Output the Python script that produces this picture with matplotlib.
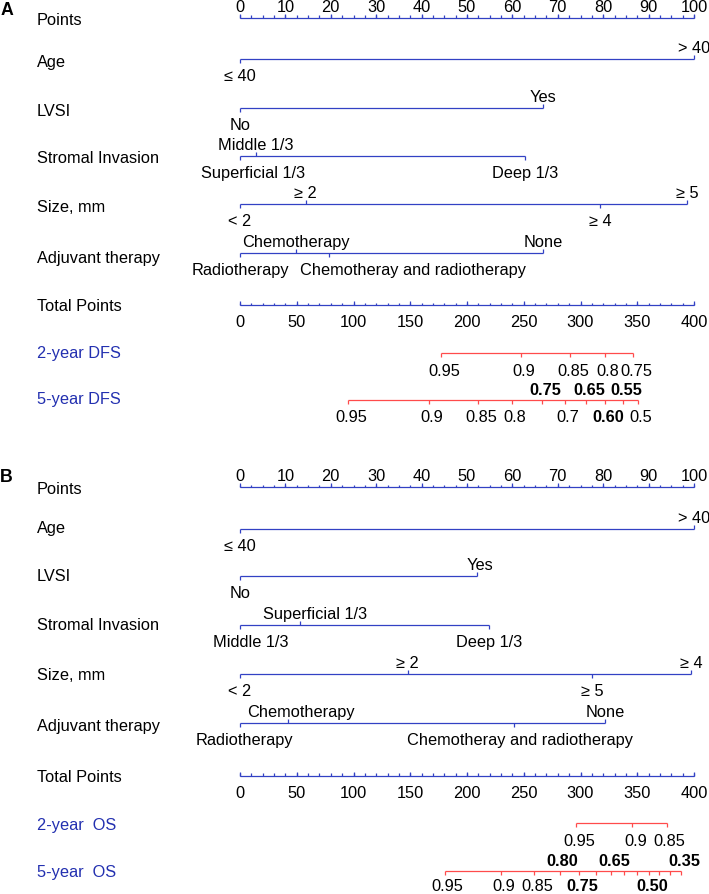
import numpy as np
import matplotlib
matplotlib.use("Agg")
import matplotlib.pyplot as plt
from matplotlib.transforms import blended_transform_factory

plt.rcParams['font.family'] = ['Liberation Sans', 'DejaVu Sans']

# ---------------- data ----------------
point_ticks = [0, 10, 20, 30, 40, 50, 60, 70, 80, 90, 100]
total_ticks = [0, 50, 100, 150, 200, 250, 300, 350, 400]

row_names_a = ["Points", "Age", "LVSI", "Stromal Invasion", "Size, mm",
               "Adjuvant therapy", "Total Points", "2-year DFS", "5-year DFS"]
row_names_b = ["Points", "Age", "LVSI", "Stromal Invasion", "Size, mm",
               "Adjuvant therapy", "Total Points", "2-year  OS", "5-year  OS"]

# panel A (DFS)
a_age = ["≤ 40", "> 40"]
a_age_pts = [0, 100]
a_lvsi = ["No", "Yes"]
a_lvsi_pts = [0, 66.7]
a_stromal = ["Superficial 1/3", "Middle 1/3", "Deep 1/3"]
a_stromal_pts = [0, 3.5, 62.8]
a_size = ["< 2", "≥ 2", "≥ 4", "≥ 5"]
a_size_pts = [0, 14.5, 79.4, 98.5]
a_adj = ["Radiotherapy", "Chemotherapy", "Chemotheray and radiotherapy", "None"]
a_adj_pts = [0, 12.3, 19.6, 66.7]

a_dfs2 = ["0.95", "0.9", "0.85", "0.8", "0.75"]
a_dfs2_total = [177, 247.6, 290.7, 321.6, 346.3]
a_dfs5 = ["0.95", "0.9", "0.85", "0.8", "0.75", "0.7", "0.65", "0.60", "0.55", "0.5"]
a_dfs5_total = [95.2, 166.5, 209.7, 239.6, 266, 286.3, 304.8, 321.6, 337.4, 350.7]

# panel B (OS)
b_age = ["≤ 40", "> 40"]
b_age_pts = [0, 100]
b_lvsi = ["No", "Yes"]
b_lvsi_pts = [0, 52.1]
b_stromal = ["Middle 1/3", "Superficial 1/3", "Deep 1/3"]
b_stromal_pts = [0, 13.3, 54.9]
b_size = ["< 2", "≥ 2", "≥ 5", "≥ 4"]
b_size_pts = [0, 36.9, 77.6, 99.3]
b_adj = ["Radiotherapy", "Chemotherapy", "Chemotheray and radiotherapy", "None"]
b_adj_pts = [0, 10.5, 60.3, 80.5]

b_os2 = ["0.95", "0.9", "0.85"]
b_os2_total = [296.2, 345.7, 375.9]
b_os5 = ["0.95", "0.9", "0.85", "0.80", "0.75", "0.7", "0.65", "0.6", "0.55",
         "0.50", "0.45", "0.4", "0.35"]
b_os5_total = [180.3, 229.9, 259.2, 281.5, 299.1, 313.5, 327, 338.7, 349.5,
               360.4, 369.5, 378.9, 388.6]
b_os5_shown = ["0.95", "0.9", "0.85", "0.80", "0.75", "0.65", "0.50", "0.35"]

# ---------------- layout / style ----------------
W, H = 709, 894
PX = 454 / 100.0          # pixels per point
BLUE = "#3241c4"
RED = "#ff4b4b"
NAME_BLUE = "#2330b0"
FS = 11.8
LW = 0.9

rows_a = [17.5, 59, 108, 156, 204, 253, 305, 353, 400]
rows_b = [487, 529, 576, 625, 674, 722.7, 775.7, 823, 870.7]
name_base_a = [25, 66.5, 116.5, 163, 211.5, 262.5, 311, 358, 404]
name_base_b = [494, 533, 581, 630, 680, 731, 782.5, 830, 876.5]

fig = plt.figure(figsize=(W / 100, H / 100), dpi=100)
ax = fig.add_axes([240 / W, 0, 454 / W, 1])
ax.set_xlim(0, 100)
ax.set_ylim(H, 0)
ax.axis('off')
lab_tr = blended_transform_factory(fig.transFigure, ax.transData)


def seg(y, x0, x1, color):
    ax.plot([x0, x1], [y, y], color=color, lw=LW, solid_capstyle='butt', clip_on=False)


def ticks(xs, y, length, color):
    ax.vlines(xs, y, y + length, color=color, lw=LW, clip_on=False)


def points_axis(y):
    seg(y, 0, 100, BLUE)
    ticks(np.arange(0, 100.01, 2.5), y, -2.5, BLUE)
    ticks(point_ticks, y, -4, BLUE)
    for t in point_ticks:
        ax.text(t, y - 6, str(t), ha='center', va='baseline', fontsize=FS)


def total_axis(y):
    seg(y, 0, 100, BLUE)
    ticks(np.arange(0, 400.01, 10) / 4, y, -2.5, BLUE)
    ticks(np.array(total_ticks) / 4, y, -4, BLUE)
    for t in total_ticks:
        ax.text(t / 4, y + 22, str(t), ha='center', va='baseline', fontsize=FS)


def cat_axis(y, labels, pts, sides, shifts=None):
    shifts = shifts or {}
    seg(y, min(pts), max(pts), BLUE)
    for lab, p, s in zip(labels, pts, sides):
        up = s == 'u'
        ticks([p], y, -4 if up else 4, BLUE)
        ax.text(p + shifts.get(lab, 0) / PX, y - 6 if up else y + 22, lab,
                ha='center', va='baseline', fontsize=FS)


def prob_axis(y, labels, totals, sides, bold=(), shown=None, below=22.5):
    xs = np.array(totals) / 4
    seg(y, xs.min(), xs.max(), RED)
    ticks(xs, y, 4, RED)
    for lab, x, s in zip(labels, xs, sides):
        if shown is not None and lab not in shown:
            continue
        ax.text(x + 3 / PX, y - 5 if s == 'u' else y + below, lab, ha='center',
                va='baseline', fontsize=FS,
                fontweight='bold' if lab in bold else 'normal')


def names(rows_base, names_list):
    for i, (yb, nm) in enumerate(zip(rows_base, names_list)):
        col = NAME_BLUE if i >= 7 else 'black'
        ax.text(37 / W, yb, nm, transform=lab_tr, ha='left', va='baseline',
                fontsize=FS, color=col)


# ---- panel A ----
ax.text(1 / W, 15, "A", transform=lab_tr, fontsize=FS + 1, fontweight='bold', va='baseline')
names(name_base_a, row_names_a)
points_axis(rows_a[0])
cat_axis(rows_a[1], a_age, a_age_pts, "du")
cat_axis(rows_a[2], a_lvsi, a_lvsi_pts, "du")
cat_axis(rows_a[3], a_stromal, a_stromal_pts, "dud", {"Superficial 1/3": 13})
cat_axis(rows_a[4], a_size, a_size_pts, "dudu")
cat_axis(rows_a[5], a_adj, a_adj_pts, "dudu", {"Chemotheray and radiotherapy": 84})
total_axis(rows_a[6])
prob_axis(rows_a[7], a_dfs2, a_dfs2_total, "ddddd")
prob_axis(rows_a[8], a_dfs5, a_dfs5_total, "ddddududud",
          bold=("0.75", "0.65", "0.55", "0.60"))

# ---- panel B ----
ax.text(0 / W, 482, "B", transform=lab_tr, fontsize=FS + 1, fontweight='bold', va='baseline')
names(name_base_b, row_names_b)
points_axis(rows_b[0])
cat_axis(rows_b[1], b_age, b_age_pts, "du")
cat_axis(rows_b[2], b_lvsi, b_lvsi_pts, "du", {"Yes": 3})
cat_axis(rows_b[3], b_stromal, b_stromal_pts, "dud",
         {"Middle 1/3": 11, "Superficial 1/3": 15})
cat_axis(rows_b[4], b_size, b_size_pts, "dudu")
cat_axis(rows_b[5], b_adj, b_adj_pts, "dudu",
         {"Radiotherapy": 4, "Chemotherapy": 13, "Chemotheray and radiotherapy": 6})
total_axis(rows_b[6])
prob_axis(rows_b[7], b_os2, b_os2_total, "ddd")
prob_axis(rows_b[8], b_os5, b_os5_total, "ddduddudddddu",
          bold=("0.80", "0.75", "0.65", "0.50", "0.35"), shown=b_os5_shown,
          below=20.5)

fig.savefig("out.png", dpi=100)
